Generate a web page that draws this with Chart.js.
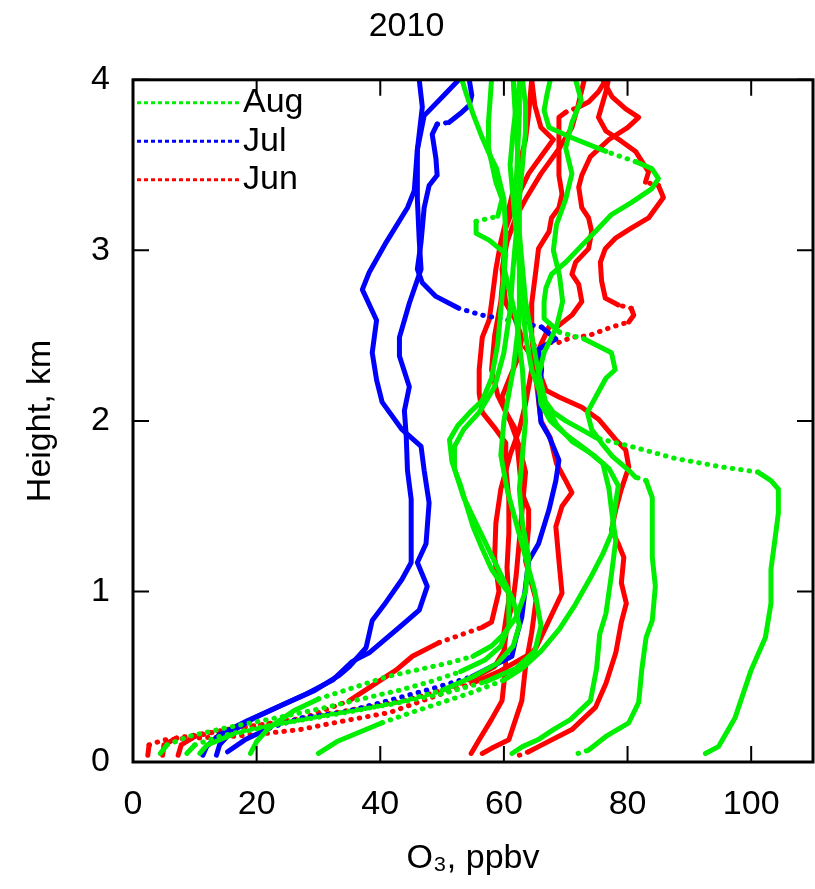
<!DOCTYPE html>
<html>
<head>
<meta charset="utf-8">
<title>O3 profiles 2010</title>
<script src="https://cdn.jsdelivr.net/npm/chart.js@4.4.1/dist/chart.umd.min.js"></script>
<style>
  html, body { margin: 0; padding: 0; background: #fff; }
</style>
</head>
<body>
<canvas id="profileChart" width="815" height="889"></canvas>
<script>
// Soundings, each point is [O3 ppbv, height km]
const aug_a = [[92.6,0.05],[94.7,0.09],[97.4,0.26],[100,0.54],[102.3,0.73],[103.2,0.93],[103.2,1.13],[103.9,1.32],[104.4,1.46],[104.4,1.6],[103.2,1.65],[101.1,1.7],[95.2,1.73],[87.7,1.78],[80.6,1.85],[75,1.9],[72.5,1.95],[70,2.0],[68,2.05],[66,2.15],[64.5,2.3],[63.5,2.5],[63,2.7],[62.5,2.9],[62,3.1],[61.5,3.3],[61,3.5],[61.5,3.7],[62,3.85],[61.5,4.0]];
const aug_b = [[72,0.05],[73.7,0.07],[76.5,0.15],[80.2,0.23],[81.8,0.35],[82.3,0.54],[83,0.73],[84,0.83],[84.5,1.03],[84,1.2],[84,1.42],[84,1.55],[83,1.65],[81.3,1.67],[80.2,1.71],[77.6,1.79],[75.8,1.87],[74.2,1.95],[73.5,2.05],[75,2.15],[76.5,2.25],[78,2.3],[77.4,2.4],[73,2.48],[69,2.52],[66.5,2.6],[66.5,2.7],[66.8,2.78],[67.7,2.86],[70,2.93],[72.1,3.01],[74.8,3.11],[77.4,3.21],[80.6,3.28],[83.9,3.36],[85,3.42],[83.9,3.48],[81.3,3.52],[76.5,3.58],[71,3.66],[67.3,3.72],[66.5,3.82],[67,3.92],[67.5,4.0]];
const aug_c = [[61.3,0.05],[63,0.09],[65.5,0.13],[68,0.19],[70.8,0.25],[74,0.36],[75,0.55],[75.5,0.75],[76.5,0.87],[77.4,1.1],[78.1,1.3],[77.5,1.45],[77,1.6],[76,1.75],[73,1.84],[70,1.92],[67.5,2.0],[66,2.1],[65.5,2.25],[66.5,2.4],[68.5,2.55],[69.5,2.7],[69,2.85],[68,3.0],[68.5,3.15],[70,3.3],[71,3.45],[70,3.6],[71,3.75],[72.5,3.88],[71.6,4.0]];
const aug_d = [[30,0.05],[33,0.12],[37,0.18],[40.3,0.23],[45,0.29],[50,0.35],[55,0.41],[60,0.48],[63,0.55],[66,0.65],[69,0.78],[71.5,0.92],[74,1.08],[76,1.22],[77.4,1.34],[78,1.5],[78.5,1.62],[77,1.72],[74.5,1.8],[71,1.88],[68.5,1.98],[66.8,2.1],[65.5,2.3],[64.5,2.5],[63.5,2.7],[63,2.9],[62.5,3.1],[62.5,3.3],[63,3.5],[63.5,3.7],[63.5,3.85],[63,4.0]];
const aug_e = [[4.4,0.05],[5.5,0.1],[9,0.15],[15,0.2],[22,0.25],[30,0.31],[37,0.37],[43,0.42],[48,0.47],[53,0.53],[57,0.6],[59.5,0.68],[60.8,0.8],[60.8,0.99],[59.5,1.05],[58,1.13],[56.5,1.25],[55,1.38],[54,1.5],[53,1.62],[51.6,1.76],[51.2,1.89],[52.5,1.97],[54.5,2.05],[56.5,2.12],[58,2.25],[59,2.45],[59.5,2.65],[60,2.85],[60.3,2.98],[57.6,3.06],[55.5,3.1],[55.5,3.17],[59,3.2],[59.7,3.3],[58.7,3.4],[57.5,3.6],[57.5,3.75],[58,4.0]];
const aug_f = [[8.7,0.05],[10,0.1],[14,0.15],[20,0.2],[28,0.25],[36,0.3],[44,0.36],[50,0.42],[55,0.5],[59,0.58],[61.5,0.68],[62.5,0.8],[61.5,0.95],[59.5,1.1],[57.5,1.25],[55.5,1.4],[53.5,1.55],[52,1.72],[52,1.85],[53.5,1.95],[56,2.05],[58.5,2.2],[60,2.4],[61,2.65],[61.5,2.9],[62,3.1],[62.5,3.4],[62,3.7],[61.5,4.0]];
const aug_g = [[10.8,0.05],[12,0.1],[16,0.16],[23,0.22],[32,0.28],[42,0.34],[50,0.4],[57,0.47],[62,0.55],[65,0.65],[66,0.8],[65,1.0],[63.5,1.2],[62,1.4],[60.5,1.6],[59.5,1.8],[60,2.0],[61.5,2.3],[62.5,2.6],[62.5,3.0],[62,3.4],[62.5,3.8],[62.5,4.0]];
const aug_h = [[19,0.05],[20,0.12],[22,0.2],[26,0.3],[30,0.37],[36,0.44],[41,0.5],[46,0.54],[51,0.58],[55,0.62],[58,0.68],[60,0.75],[62,0.85],[63.5,1.0],[64,1.2],[63,1.4],[62.5,1.6],[63,1.8],[63.5,2.0],[63,2.3],[62,2.6],[60,2.9],[60.3,3.1],[60,3.3],[58.8,3.48],[57.7,3.56],[56.5,3.66],[55,3.8],[53.9,3.92],[53.2,4.0]];

const jul_a = [[11.3,0.04],[11.9,0.09],[14,0.16],[18.4,0.24],[23.2,0.32],[28.1,0.4],[32.3,0.48],[35.5,0.59],[38.2,0.64],[43.1,0.79],[46.3,0.89],[47.6,1.03],[46,1.17],[47.4,1.28],[47.9,1.52],[47.1,1.71],[46.6,1.85],[43.5,1.95],[40.3,2.11],[39.4,2.24],[38.7,2.4],[39.4,2.59],[37.1,2.77],[38.2,2.87],[41,3.05],[44.4,3.25],[45.5,3.35],[46,3.59],[46.8,3.84],[46.3,4.0]];
const jul_b = [[13.5,0.04],[14,0.1],[16,0.18],[19.7,0.26],[24.5,0.34],[29.4,0.42],[33.4,0.51],[35,0.56],[37.7,0.67],[38.7,0.83],[40.6,0.92],[43.5,1.07],[45,1.17],[45,1.54],[44.4,1.71],[44.2,1.91],[43.9,2.06],[44.7,2.2],[43.1,2.38],[43.1,2.49],[44.7,2.69],[46.6,2.89],[46.3,3.06],[46,3.3],[46,3.59],[47.1,3.79],[50.3,3.91],[52.7,4.0]];
const jul_c = [[15.3,0.06],[18.1,0.13],[22.1,0.2],[27.4,0.26],[33.9,0.29],[40.3,0.35],[48.4,0.43],[54.8,0.5],[61.3,0.62],[61.9,0.72],[62.9,0.85],[63.5,1.03],[64,1.18],[65.6,1.28],[67.3,1.48],[68.4,1.65],[68.9,1.77],[67.3,1.91],[66,1.99],[65.6,2.14],[66.1,2.3],[65.6,2.42],[68.4,2.48],[66.1,2.55],[60.8,2.59],[56.5,2.62],[52.7,2.66],[49,2.73],[46.8,2.81],[46,2.89],[46.6,3.05],[47.1,3.25],[47.9,3.38],[49.2,3.44],[49,3.54],[48.4,3.68],[49.2,3.74],[51.1,3.75],[53.2,3.81],[54.4,3.85],[54.8,3.91],[54.4,4.0]];

const jun_a = [[54.7,0.05],[56,0.13],[58,0.25],[59.7,0.36],[60.3,0.56],[60,0.76],[60.8,0.95],[60.5,1.14],[60.8,1.34],[60.8,1.54],[60.3,1.73],[60.3,1.87],[58.7,1.95],[56.5,2.05],[56,2.16],[56,2.3],[56.5,2.49],[57.6,2.59],[58,2.69],[58.7,2.89],[59.5,3.05],[60.5,3.2],[61.5,3.35],[62.5,3.5],[63.5,3.65],[64,3.8],[64.5,4.0]];
const jun_b = [[56.5,0.05],[58,0.08],[60.8,0.13],[62.9,0.36],[63.5,0.56],[64.5,0.76],[65.2,0.95],[63.5,1.18],[64,1.38],[64,1.48],[62.9,1.58],[62.4,1.77],[61.9,1.95],[60.3,2.05],[59.7,2.14],[60.8,2.24],[62.4,2.38],[62.9,2.49],[61.9,2.59],[60.3,2.69],[59.7,2.89],[60.5,3.05],[62,3.2],[63.5,3.3],[66,3.45],[69,3.6],[71,3.72],[72,3.85],[73,4.0]];
const jun_c = [[62.5,0.04],[64,0.06],[65.6,0.09],[71,0.19],[74.8,0.32],[76.5,0.46],[78.1,0.64],[79,0.82],[79.8,0.93],[79,1.05],[79.4,1.2],[78.5,1.28],[77.4,1.36],[78.1,1.48],[79,1.6],[80.2,1.73],[79.7,1.83],[78.1,1.89],[75.3,2.01],[72.6,2.08],[68.9,2.14],[66.8,2.18],[65.2,2.34],[63.5,2.43],[66.5,2.46],[68.9,2.46],[71,2.49],[73.7,2.5],[77.4,2.55],[80.2,2.58],[81,2.62],[80.6,2.66],[78.5,2.68],[76.4,2.72],[75.8,2.82],[75.6,2.93],[76.4,3.01],[78,3.07],[80.6,3.13],[83.4,3.19],[85.8,3.31],[85,3.38],[82.9,3.4],[83.4,3.46],[81.3,3.58],[79,3.64],[76.5,3.7],[75.3,3.78],[76.5,3.93],[76.9,4.0]];
const jun_d = [[2.4,0.04],[2.6,0.1],[5,0.13],[10,0.14],[16,0.15],[22,0.17],[27,0.19],[34,0.24],[41.5,0.29],[48.4,0.38],[54.8,0.46],[59.2,0.53],[64.5,0.64],[65.2,0.67],[67.3,0.83],[69.4,0.99],[68.9,1.18],[68.4,1.38],[69.4,1.5],[71,1.58],[70,1.65],[68.5,1.75],[67.5,1.9],[66,2.0],[65.5,2.15],[65,2.3],[64.5,2.5],[64.5,2.69],[65.2,2.89],[65.6,3.01],[67.3,3.11],[67.7,3.19],[68.9,3.25],[69.4,3.33],[68.9,3.44],[68.9,3.64],[68.9,3.78],[70,3.81],[72.1,3.84],[73.7,3.87],[75.3,3.93],[76.5,4.0]];
const jun_e = [[4.8,0.04],[5,0.1],[7,0.14],[12,0.17],[18,0.2],[27,0.25],[35,0.36],[42.6,0.54],[45.2,0.62],[49.5,0.7],[56.5,0.79],[58,0.82],[59.2,1.0],[58.5,1.2],[58.7,1.4],[59.5,1.6],[61,1.8],[62.5,1.95],[63.5,2.1],[64.5,2.3],[66,2.45],[67.3,2.55],[68.9,2.56],[71,2.62],[72.6,2.7],[72.1,2.8],[71,2.86],[71.6,2.93],[73.7,3.01],[74.2,3.11],[73.7,3.19],[72.6,3.25],[72.1,3.37],[72.6,3.44],[74,3.55],[77,3.65],[80,3.72],[81.8,3.78],[79.7,3.83],[77.5,3.9],[76,4.0]];
const jun_f = [[7.3,0.04],[7.8,0.1],[10,0.15],[15,0.19],[21,0.22],[28,0.26],[36,0.31],[44,0.36],[50,0.42],[55,0.49],[58.5,0.56],[60,0.65],[60.5,0.8],[61.5,0.95],[62,1.1],[62.5,1.3],[63,1.5],[63.5,1.7],[62.5,1.85],[61,2.0],[59,2.15],[58,2.3],[58.5,2.5],[59.5,2.7],[60,2.9],[60,3.1],[62,3.3],[64,3.45],[66,3.55],[68,3.65],[66,3.72],[65,3.85],[64.5,4.0]];

const months = ['Aug', 'Jul', 'Jun'];
const monthColors = ['#00ee00', '#0000ff', '#ff0000'];
const monthProfiles = [
    [aug_a, aug_b, aug_c, aug_d, aug_e, aug_f, aug_g, aug_h],
    [jul_a, jul_b, jul_c],
    [jun_a, jun_b, jun_c, jun_d, jun_e, jun_f]
];
const xTicks = [0, 20, 40, 60, 80, 100];
const yTicks = [0, 1, 2, 3, 4];

Chart.defaults.font.family = '"Liberation Sans", Arial, sans-serif';
Chart.defaults.color = '#000';

// fast horizontal moves of the sonde show up as dots in the original plot
function dottedIfFlat(ctx) {
    var dx = Math.abs(ctx.p1.x - ctx.p0.x);
    var dy = Math.abs(ctx.p1.y - ctx.p0.y);
    return dx > 2.5 * dy ? [0.5, 8] : undefined;
}

var datasets = [];
months.forEach(function (month, i) {
    monthProfiles[i].forEach(function (profile) {
        datasets.push({
            label: month,
            data: profile.map(p => ({ x: p[0], y: p[1] })),
            showLine: true,
            borderColor: monthColors[i],
            backgroundColor: monthColors[i],
            borderWidth: 5,
            borderCapStyle: 'round',
            borderJoinStyle: 'round',
            pointRadius: 0,
            tension: 0,
            segment: { borderDash: dottedIfFlat }
        });
    });
});

// frame with inward ticks on all four sides, plus the key in the top left corner
const framePlugin = {
    id: 'frame',
    afterDatasetsDraw(chart) {
        var ctx = chart.ctx;
        var a = chart.chartArea;
        var xs = chart.scales.x, ys = chart.scales.y;
        ctx.save();
        ctx.strokeStyle = '#000';
        ctx.lineWidth = 2;
        xTicks.forEach(v => {
            var px = xs.getPixelForValue(v);
            ctx.beginPath();
            ctx.moveTo(px, a.bottom); ctx.lineTo(px, a.bottom - 16);
            ctx.moveTo(px, a.top); ctx.lineTo(px, a.top + 16);
            ctx.stroke();
        });
        yTicks.forEach(v => {
            var py = ys.getPixelForValue(v);
            ctx.beginPath();
            ctx.moveTo(a.left, py); ctx.lineTo(a.left + 16, py);
            ctx.moveTo(a.right, py); ctx.lineTo(a.right - 16, py);
            ctx.stroke();
        });
        ctx.lineWidth = 3;
        ctx.strokeRect(a.left, a.top, a.right - a.left, a.bottom - a.top);

        // key
        ctx.font = '34px "Liberation Sans", Arial, sans-serif';
        ctx.textBaseline = 'middle';
        months.forEach((m, i) => {
            var y = a.top + 23 + i * 38.5;
            ctx.strokeStyle = monthColors[i];
            ctx.lineWidth = 3;
            ctx.setLineDash([4, 3]);
            ctx.beginPath();
            ctx.moveTo(a.left + 4, y);
            ctx.lineTo(a.left + 109, y);
            ctx.stroke();
            ctx.setLineDash([]);
            ctx.fillStyle = '#000';
            ctx.fillText(m, a.left + 110, y);
        });
        ctx.restore();
    }
};

var ctx = document.getElementById('profileChart').getContext('2d');
var chart = new Chart(ctx, {
    type: 'scatter',
    data: { datasets: datasets },
    options: {
        responsive: false,
        animation: false,
        devicePixelRatio: 1,
        layout: { padding: { left: 0, right: 2, top: 0, bottom: 0 } },
        plugins: {
            legend: { display: false },
            tooltip: { enabled: false },
            title: {
                display: true,
                text: '2010',
                font: { size: 34, weight: 'normal' },
                color: '#000',
                padding: { top: 6, bottom: 33 }
            }
        },
        scales: {
            x: {
                type: 'linear',
                min: 0,
                max: 110,
                afterBuildTicks: s => { s.ticks = xTicks.map(v => ({ value: v })); },
                afterFit: s => { s.height = 127; },
                ticks: { font: { size: 34 }, padding: 22, color: '#000' },
                grid: { display: false, drawTicks: false },
                border: { display: false },
                title: {
                    display: true,
                    text: 'O₃, ppbv',
                    font: { size: 34 },
                    color: '#000',
                    padding: { top: 0, bottom: 10 }
                }
            },
            y: {
                type: 'linear',
                min: 0,
                max: 4,
                afterBuildTicks: s => { s.ticks = yTicks.map(v => ({ value: v })); },
                afterFit: s => { s.width = 133; },
                ticks: { font: { size: 34 }, padding: 23, color: '#000' },
                grid: { display: false, drawTicks: false },
                border: { display: false },
                title: {
                    display: true,
                    text: 'Height, km',
                    font: { size: 34 },
                    color: '#000',
                    padding: { top: 20, bottom: 0 }
                }
            }
        }
    },
    plugins: [framePlugin]
});
</script>
</body>
</html>
